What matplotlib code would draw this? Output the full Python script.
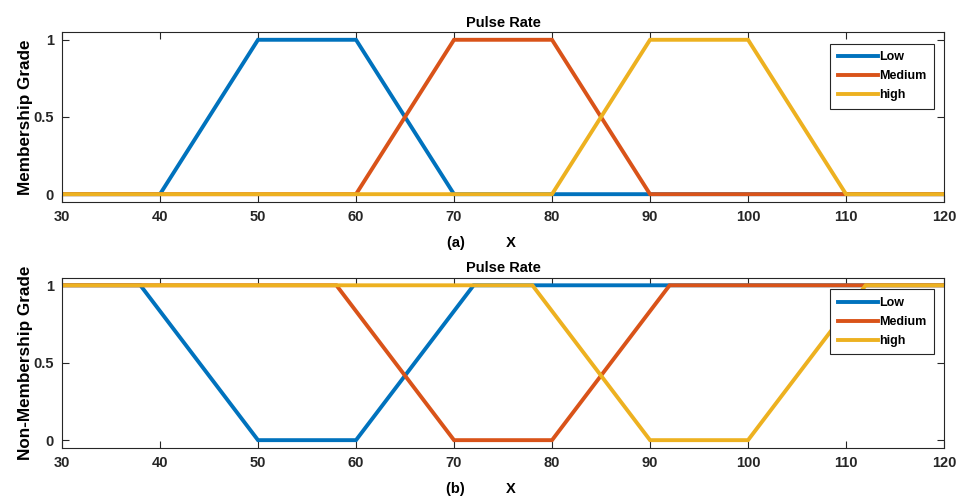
import matplotlib.pyplot as plt

plt.rcParams['font.family'] = ['Liberation Sans', 'DejaVu Sans']
plt.rcParams['font.weight'] = 'bold'

names = ['Low', 'Medium', 'high']
colors = ['#0072BD', '#D95319', '#EDB120']

# membership functions (breakpoints, values)
mem_x = [
    [30, 40, 50, 60, 70, 120],
    [30, 60, 70, 80, 90, 120],
    [30, 80, 90, 100, 110, 120],
]
mem_y = [
    [0, 0, 1, 1, 0, 0],
    [0, 0, 1, 1, 0, 0],
    [0, 0, 1, 1, 0, 0],
]

# non-membership functions
non_x = [
    [30, 38, 50, 60, 72, 120],
    [30, 58, 70, 80, 92, 120],
    [30, 78, 90, 100, 112, 120],
]
non_y = [
    [1, 1, 0, 0, 1, 1],
    [1, 1, 0, 0, 1, 1],
    [1, 1, 0, 0, 1, 1],
]

xticks = [30, 40, 50, 60, 70, 80, 90, 100, 110, 120]
yticks = [0, 0.5, 1]
yticklabels = ['0', '0.5', '1']

fig = plt.figure(figsize=(9.64, 5.01), dpi=100)
ax1 = fig.add_axes([0.0643, 0.597, 0.915, 0.339])
ax2 = fig.add_axes([0.0643, 0.106, 0.915, 0.340])

panels = [
    (ax1, mem_x, mem_y, 'Membership Grade', '(a)'),
    (ax2, non_x, non_y, 'Non-Membership Grade', '(b)'),
]

for ax, xs, ys, ylab, tag in panels:
    for x, y, c, n in zip(xs, ys, colors, names):
        ax.plot(x, y, color=c, linewidth=2.8, label=n, solid_joinstyle='miter')
    ax.set_xlim(30, 120)
    ax.set_ylim(-0.05, 1.05)
    ax.set_xticks(xticks)
    ax.set_yticks(yticks)
    ax.set_yticklabels(yticklabels)
    ax.tick_params(direction='in', top=True, right=True, length=5,
                   width=0.8, colors='#262626', labelsize=10.5, pad=6)
    for lab in ax.get_xticklabels() + ax.get_yticklabels():
        lab.set_fontweight('bold')
    for s in ax.spines.values():
        s.set_color('#262626')
        s.set_linewidth(0.8)
    ax.set_title('Pulse Rate', fontsize=10.5, fontweight='bold', pad=4)
    ax.set_ylabel(ylab, fontsize=12.3, fontweight='bold')
    ax.yaxis.set_label_coords(-0.033, 0.5)
    ax.set_xlabel(tag + '          X', fontsize=10.5, fontweight='bold')
    ax.xaxis.set_label_coords(0.475, -0.2)
    leg = ax.legend(loc='upper right', bbox_to_anchor=(0.9885, 0.93),
                    fancybox=False, framealpha=1, edgecolor='#262626',
                    prop={'weight': 'bold', 'size': 9}, handlelength=3.2,
                    handletextpad=0.1, borderpad=0.6, labelspacing=0.56,
                    borderaxespad=0)
    leg.get_frame().set_linewidth(0.8)

fig.savefig('out.png', dpi=100)
